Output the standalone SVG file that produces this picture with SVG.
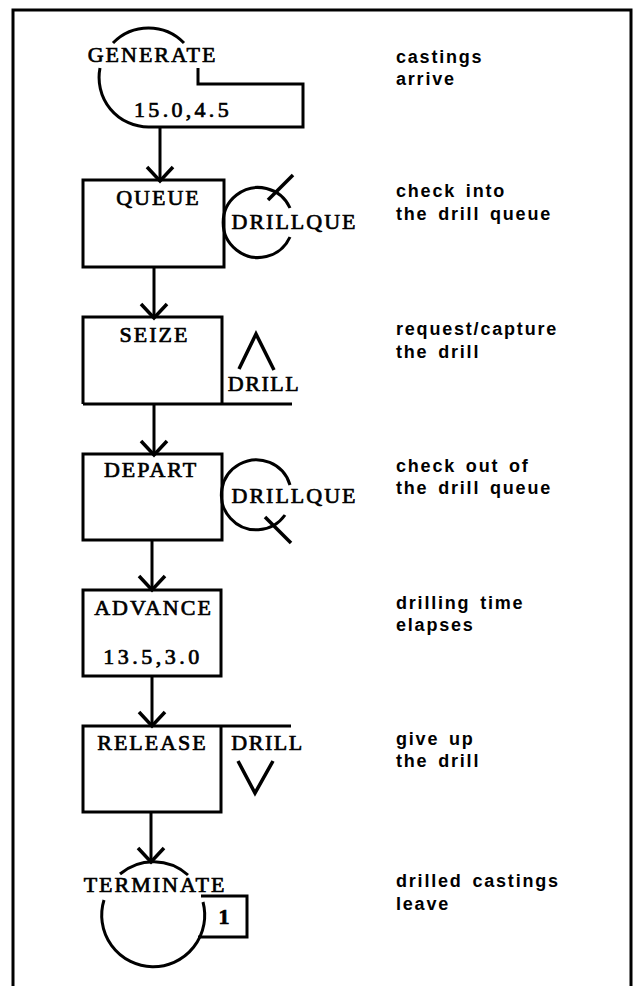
<svg xmlns="http://www.w3.org/2000/svg" width="634" height="986" viewBox="0 0 634 986">
<style>
.ln{fill:none;stroke:#000;stroke-width:3;stroke-linejoin:miter;stroke-linecap:butt}
.th{fill:none;stroke:#000;stroke-width:3.5;stroke-linecap:butt}
.lb{font-family:"Liberation Serif","Times New Roman",serif;font-size:22px;fill:#000;stroke:#000;stroke-width:0.7;letter-spacing:2px;text-anchor:middle}
.num{letter-spacing:3.3px}
.nt{font-family:"Liberation Sans",Arial,sans-serif;font-size:18px;font-weight:bold;fill:#000;letter-spacing:1.8px;word-spacing:3px}
</style>
<defs>
<marker id="arr" markerUnits="userSpaceOnUse" viewBox="-18 -18 36 36" markerWidth="36" markerHeight="36" refX="0" refY="0" orient="auto">
<path d="M-14,-13 L0,0 L-14,13" fill="none" stroke="#000" stroke-width="3.5"/>
</marker>
</defs>
<rect width="634" height="986" fill="#fff"/>
<path class="ln" d="M13,986 V10 H631 V986"/>

<g id="connectors">
<line class="ln" x1="160" y1="127" x2="160" y2="181" marker-end="url(#arr)"/>
<line class="ln" x1="154" y1="267" x2="154" y2="318" marker-end="url(#arr)"/>
<line class="ln" x1="154" y1="404" x2="154" y2="455" marker-end="url(#arr)"/>
<line class="ln" x1="152" y1="540" x2="152" y2="590" marker-end="url(#arr)"/>
<line class="ln" x1="152" y1="676" x2="152" y2="726" marker-end="url(#arr)"/>
<line class="ln" x1="151" y1="812" x2="151" y2="862" marker-end="url(#arr)"/>
</g>

<g id="generate">
<path class="ln" d="M113,43 A49.5,49.5 0 0 1 184,43"/>
<path class="ln" d="M100,68 A49.5,49.5 0 0 0 148.5,127 H303 V84 H198 V68"/>
<text class="lb" x="152.5" y="62">GENERATE</text>
<text class="lb num" x="183" y="117">15.0,4.5</text>
</g>

<g id="queue">
<rect class="ln" x="83" y="180" width="141" height="87"/>
<text class="lb" x="158.5" y="205">QUEUE</text>
<path class="ln" d="M290,237 A35,35 0 1 1 290,208"/>
<line class="th" x1="268" y1="200" x2="293" y2="175"/>
<text class="lb" x="294.5" y="229">DRILLQUE</text>
</g>

<g id="seize">
<path class="ln" d="M83,404 V317 H222 V404 M83,404 H292"/>
<text class="lb" x="154.5" y="342">SEIZE</text>
<polyline class="th" points="239,369 256,334 274,370"/>
<text class="lb" x="264" y="391" style="letter-spacing:1.5px">DRILL</text>
</g>

<g id="depart">
<rect class="ln" x="83" y="454" width="139" height="86"/>
<text class="lb" x="151" y="477">DEPART</text>
<path class="ln" d="M290,485 A35,35 0 1 0 285,515"/>
<line class="th" x1="265" y1="517" x2="291" y2="543"/>
<text class="lb" x="294.5" y="503">DRILLQUE</text>
</g>

<g id="advance">
<rect class="ln" x="83" y="590" width="138" height="86"/>
<text class="lb" x="153.5" y="615">ADVANCE</text>
<text class="lb num" x="153" y="664" style="letter-spacing:3.5px">13.5,3.0</text>
</g>

<g id="release">
<path class="ln" d="M221,726 V812 H83 V726 H291"/>
<text class="lb" x="152.5" y="750">RELEASE</text>
<text class="lb" x="267.5" y="750" style="letter-spacing:1.5px">DRILL</text>
<polyline class="th" points="238,761 255,793 273,761"/>
</g>

<g id="terminate">
<path class="ln" d="M120,874 A51.5,51.5 0 0 1 188,875"/>
<path class="ln" d="M104,900 A51.5,51.5 0 1 0 203,902"/>
<path class="ln" d="M201,896 H247 V937 H198"/>
<text class="lb" x="155" y="892">TERMINATE</text>
<text class="lb" x="224" y="924" style="letter-spacing:0;font-weight:bold">1</text>
</g>

<g id="notes">
<text class="nt" x="396" y="63">castings</text>
<text class="nt" x="396" y="85">arrive</text>
<text class="nt" x="396" y="197">check into</text>
<text class="nt" x="396" y="220">the drill queue</text>
<text class="nt" x="396" y="335">request/capture</text>
<text class="nt" x="396" y="358">the drill</text>
<text class="nt" x="396" y="472">check out of</text>
<text class="nt" x="396" y="494">the drill queue</text>
<text class="nt" x="396" y="609">drilling time</text>
<text class="nt" x="396" y="631">elapses</text>
<text class="nt" x="396" y="745">give up</text>
<text class="nt" x="396" y="767">the drill</text>
<text class="nt" x="396" y="887">drilled castings</text>
<text class="nt" x="396" y="910">leave</text>
</g>
</svg>
